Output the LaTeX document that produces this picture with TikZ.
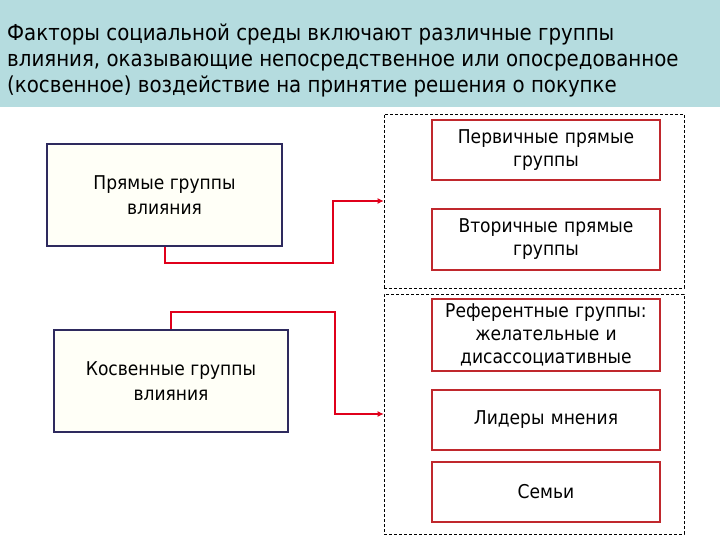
\documentclass[tikz,border=0pt]{standalone}
\usepackage{fontspec}
\setmainfont{DejaVu Sans Condensed}
\usetikzlibrary{arrows.meta}
\definecolor{band}{HTML}{B5DCDF}
\definecolor{navy}{HTML}{2E2A5E}
\definecolor{dred}{HTML}{C0282D}
\definecolor{cred}{HTML}{E0001B}
\definecolor{cream}{HTML}{FFFFF7}
\tikzset{
  leftbox/.style={draw=navy, line width=2pt, fill=cream, align=center, inner sep=0pt,
    font=\fontsize{19}{25}\selectfont},
  groupbox/.style={draw=black, line width=0.6pt, dash pattern=on 3pt off 2pt, fill=white, inner sep=0pt},
  itembox/.style={draw=dred, line width=2pt, fill=white, align=center, inner sep=0pt,
    minimum width=228pt, text width=224pt, font=\fontsize{19}{23}\selectfont},
  conn/.style={draw=cred, line width=2pt, -{Latex[length=6pt,width=6pt]}}
}
\begin{document}
\begin{tikzpicture}[x=1pt,y=-1pt]
\useasboundingbox (0,0) rectangle (720,540);
\fill[band] (0,0) rectangle (720,107);
\node[anchor=north west, align=left, inner sep=0pt, font=\fontsize{22}{26}\selectfont] (title) at (7,24)
  {Факторы социальной среды включают различные группы\\
   влияния, оказывающие непосредственное или опосредованное\\
   (косвенное) воздействие на принятие решения о покупке};
\node[leftbox, minimum width=235pt, minimum height=101pt] (b1) at (164.5,195) {Прямые группы\\влияния};
\node[leftbox, minimum width=234pt, minimum height=102pt] (b2) at (171,381) {Косвенные группы\\влияния};
\node[groupbox, minimum width=300pt, minimum height=174pt] (d1) at (534,201) {};
\node[groupbox, minimum width=300pt, minimum height=240pt] (d2) at (534,414) {};
\node[itembox, minimum height=60pt] (r1) at (546,150) {Первичные прямые\\группы};
\node[itembox, minimum height=61pt] (r2) at (546,239.5) {Вторичные прямые\\группы};
\node[itembox, minimum height=72pt] (r3) at (546,335) {Референтные группы:\\желательные и\\дисассоциативные};
\node[itembox, minimum height=60pt] (r4) at (546,420) {Лидеры мнения};
\node[itembox, minimum height=60pt] (r5) at (546,492) {Семьи};
\draw[conn] (b1.south) |- (333,263) |- (d1.west);
\draw[conn] (b2.north) |- (335,312) |- (d2.west);
\end{tikzpicture}
\end{document}
